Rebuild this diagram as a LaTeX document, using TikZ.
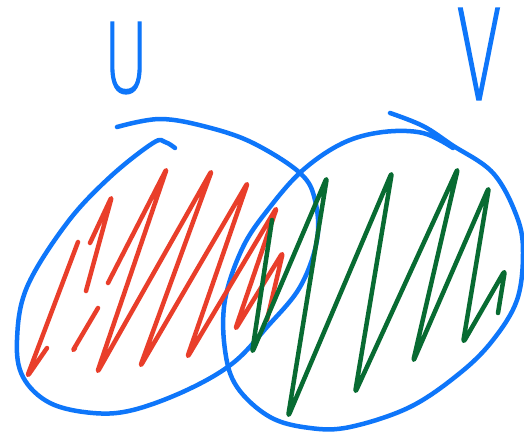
\documentclass[tikz,border=0pt]{standalone}
\usepackage{fontspec}
\newfontfamily\handfont{DejaVu Sans}[UprightFont=* ExtraLight, FakeBold=2]
\definecolor{penblue}{RGB}{14,118,250}
\definecolor{penred}{RGB}{233,62,42}
\definecolor{pengreen}{RGB}{8,107,50}
\tikzset{
  pen/.style={line width=4.5pt, line cap=round, line join=round},
  bluepen/.style={pen, draw=penblue},
  redpen/.style={pen, draw=penred, rounded corners=4pt},
  greenpen/.style={pen, draw=pengreen, rounded corners=4pt},
  letter/.style={text=penblue, inner sep=0pt, font=\handfont\fontsize{96}{96}\selectfont}
}
\begin{document}
\begin{tikzpicture}[x=1pt,y=-1pt]
\path[use as bounding box, fill=white] (0,0) rectangle (524,432);
% labels
\node[letter, xscale=0.62] (labU) at (126,58) {U};
\node[letter, xscale=0.68, yscale=1.3] (labV) at (479,54) {V};
% left set U
\draw[bluepen] plot[smooth, tension=0.6] coordinates {
 (117,127) (160,119) (207,127) (253,143) (300,173) (315,200) (317,240)
 (300,287) (267,327) (233,363) (187,390) (133,410) (93,413) (50,403)
 (23,377) (17,340) (27,287) (67,223) (110,177) (153,143) (165,142) (175,148)};
% right set V
\draw[bluepen] plot[smooth, tension=0.6] coordinates {
 (390,113) (423,126) (452,145) (493,173) (517,217) (523,253) (517,300)
 (493,340) (460,373) (410,407) (350,427) (310,428) (270,417) (237,387)
 (225,350) (225,300) (243,247) (270,207) (303,170) (343,143) (383,132)
 (423,133) (453,148)};
% red hatching
\draw[redpen] (78,242) -- (27,377) -- (47,348);
\draw[redpen] (90,243) -- (112,196) -- (86,291);
\draw[redpen] (98,308) -- (72,352) -- (75,348);
\draw[redpen] (108,283) -- (167,168) -- (97,373) -- (212,170) -- (140,367)
 -- (248,182) -- (187,358) -- (277,207) -- (235,330) -- (283,252) -- (267,320);
% green hatching
\draw[greenpen] (272,220) -- (252,353) -- (327,177) -- (288,417) -- (392,172)
 -- (355,393) -- (458,168) -- (413,362) -- (489,187) -- (463,343)
 -- (505,270) -- (498,313);
\end{tikzpicture}
\end{document}
